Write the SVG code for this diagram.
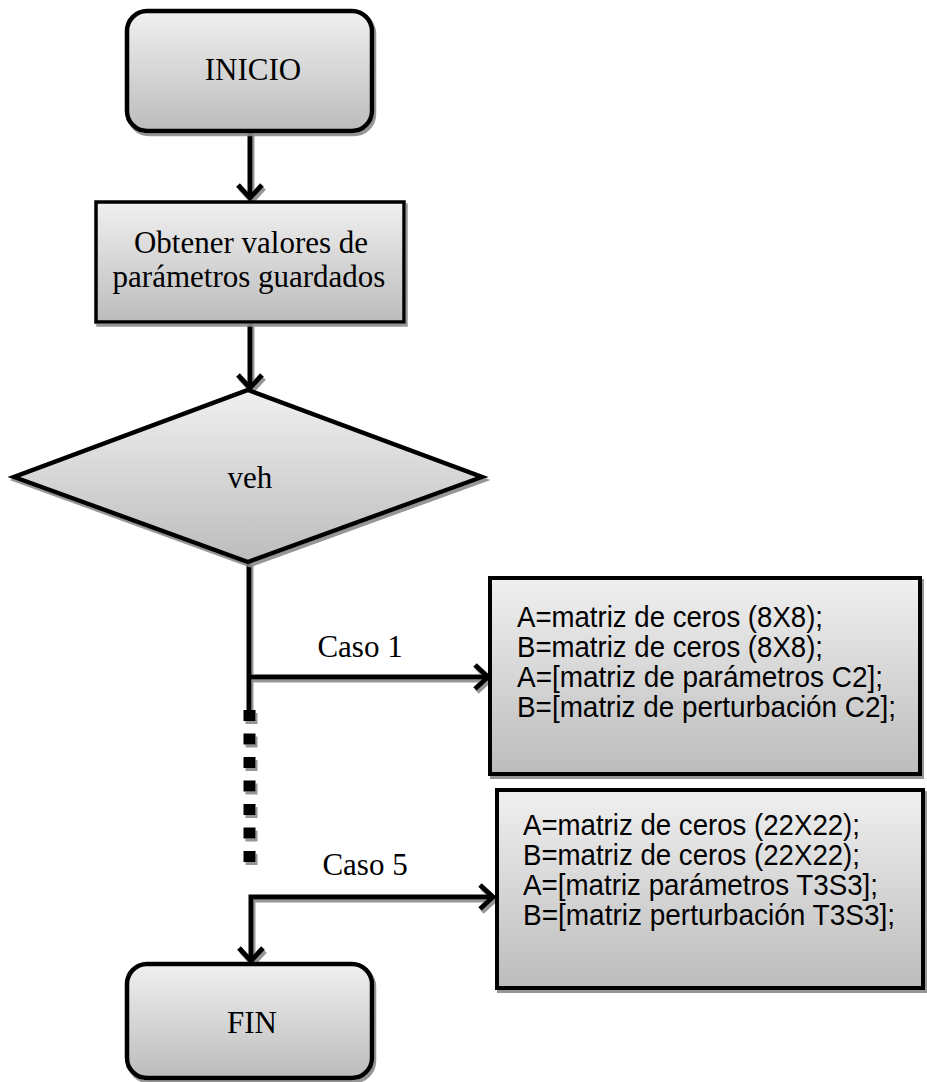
<svg xmlns="http://www.w3.org/2000/svg" width="927" height="1082" viewBox="0 0 927 1082">
  <defs>
    <linearGradient id="fillGrad" x1="0" y1="0" x2="0" y2="1">
      <stop offset="0" stop-color="#f0f0f0"/>
      <stop offset="1" stop-color="#bcbcbc"/>
    </linearGradient>
    <filter id="shadow" x="-5%" y="-5%" width="115%" height="115%">
      <feDropShadow dx="2" dy="3" stdDeviation="0.6" flood-color="#8a8a8a" flood-opacity="0.9"/>
    </filter>
    <marker id="arrow" markerUnits="userSpaceOnUse" markerWidth="30" markerHeight="30" viewBox="-16 -15 20 30" refX="0" refY="0" orient="auto-start-reverse">
      <path d="M -13 -12 L 0 0 L -13 12" fill="none" stroke="#000" stroke-width="5" stroke-linejoin="miter"/>
    </marker>
    <style>
      .shape { fill: url(#fillGrad); stroke: #000; filter: url(#shadow); }
      .serif { font-family: "Liberation Serif", "Times New Roman", serif; font-size: 31px; fill: #000; }
      .code { font-family: "Liberation Sans", Arial, sans-serif; font-size: 30px; fill: #000; }
      .conn { fill: none; stroke: #000; stroke-width: 5; }
    </style>
  </defs>
  <rect width="927" height="1082" fill="#fff"/>

  <!-- connectors -->
  <g id="connectors">
    <g filter="url(#shadow)">
      <path class="conn" d="M 250 131 L 250 198" marker-end="url(#arrow)"/>
      <path class="conn" d="M 250 322 L 250 388" marker-end="url(#arrow)"/>
      <path class="conn" d="M 249 562 L 249 710"/>
      <path class="conn" d="M 249 677 L 488 677" marker-end="url(#arrow)"/>
      <path d="M 249.5 710 L 249.5 868" fill="none" stroke="#000" stroke-width="12" stroke-dasharray="11 12.5"/>
      <path class="conn" d="M 493 897 L 251 897 L 251 961" marker-start="url(#arrow)" marker-end="url(#arrow)"/>
    </g>
    <text class="serif" x="360" y="657" text-anchor="middle">Caso 1</text>
    <text class="serif" x="365" y="875" text-anchor="middle">Caso 5</text>
  </g>

  <!-- start terminator -->
  <g id="inicio">
    <rect class="shape" x="127" y="11" width="245" height="120" rx="20" ry="20" stroke-width="4.5"/>
    <text class="serif" x="253" y="80" text-anchor="middle">INICIO</text>
  </g>

  <!-- load stored parameters -->
  <g id="obtener">
    <rect class="shape" x="96" y="202" width="308" height="120" stroke-width="3.5"/>
    <text class="serif" x="251" y="253" text-anchor="middle">Obtener valores de</text>
    <text class="serif" x="249" y="287" text-anchor="middle">parámetros guardados</text>
  </g>

  <!-- vehicle switch -->
  <g id="veh">
    <polygon class="shape" points="248,390 482,477 248,562 14,477" stroke-width="4.5" stroke-linejoin="miter"/>
    <text class="serif" x="250" y="488" text-anchor="middle">veh</text>
  </g>

  <!-- case 1 matrices -->
  <g id="caso1">
    <rect class="shape" x="490" y="578" width="430" height="196" stroke-width="4"/>
    <text class="code" x="517" y="627" textLength="306" lengthAdjust="spacingAndGlyphs">A=matriz de ceros (8X8);</text>
    <text class="code" x="517" y="657" textLength="306" lengthAdjust="spacingAndGlyphs">B=matriz de ceros (8X8);</text>
    <text class="code" x="517" y="687" textLength="366" lengthAdjust="spacingAndGlyphs">A=[matriz de parámetros C2];</text>
    <text class="code" x="517" y="717" textLength="379" lengthAdjust="spacingAndGlyphs">B=[matriz de perturbación C2];</text>
  </g>

  <!-- case 5 matrices -->
  <g id="caso5">
    <rect class="shape" x="497" y="790" width="426" height="198" stroke-width="4"/>
    <text class="code" x="523" y="835" textLength="337" lengthAdjust="spacingAndGlyphs">A=matriz de ceros (22X22);</text>
    <text class="code" x="523" y="865" textLength="337" lengthAdjust="spacingAndGlyphs">B=matriz de ceros (22X22);</text>
    <text class="code" x="523" y="895" textLength="355" lengthAdjust="spacingAndGlyphs">A=[matriz parámetros T3S3];</text>
    <text class="code" x="523" y="925" textLength="372" lengthAdjust="spacingAndGlyphs">B=[matriz perturbación T3S3];</text>
  </g>

  <!-- end terminator -->
  <g id="fin">
    <rect class="shape" x="127" y="964" width="245" height="114" rx="20" ry="20" stroke-width="4.5"/>
    <text class="serif" x="252" y="1033" text-anchor="middle">FIN</text>
  </g>
</svg>
